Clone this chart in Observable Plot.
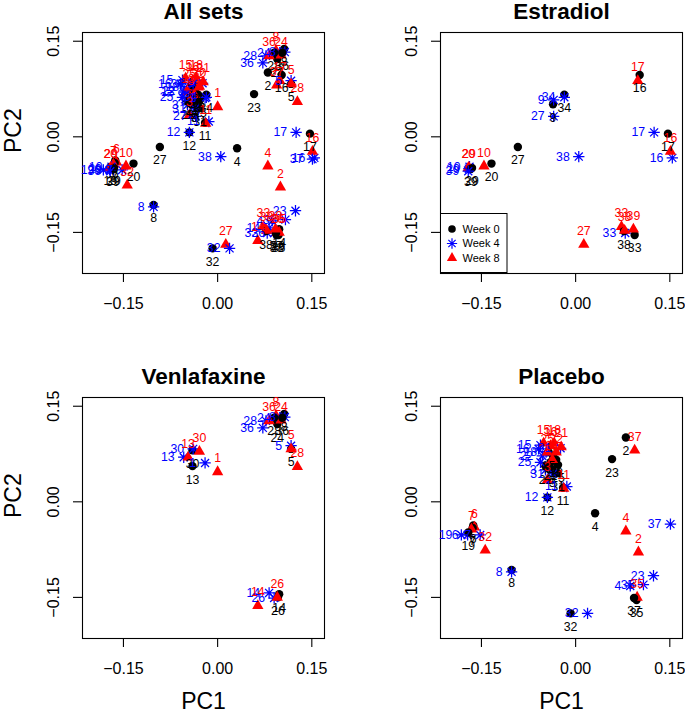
<!DOCTYPE html>
<html><head><meta charset="utf-8">
<script src="https://cdn.jsdelivr.net/npm/d3@7"></script>
<script src="https://cdn.jsdelivr.net/npm/@observablehq/plot@0.6"></script>
<style>
body{margin:0;background:#fff;}
#wrap{position:relative;width:685px;height:714px;overflow:hidden;font-family:"Liberation Sans",Arial,Helvetica,sans-serif;background:#fff;}
.panel{position:absolute;}
</style></head><body><div id="wrap"></div>
<script>
// ---- data: [subject, PC1, PC2] ----
const weeks = ["Week 0", "Week 4", "Week 8"];
const xTicks = [-0.15, 0, 0.15];
const yTicks = [-0.15, 0, 0.15];
const titles = ["All sets", "Estradiol", "Venlafaxine", "Placebo"];

const estradiolWeek0 = [[16,0.102,0.097],[17,0.147,0.005],[34,-0.018,0.066],[9,-0.036,0.051],[27,-0.092,-0.016],[20,-0.134,-0.042],[29,-0.165,-0.049],[39,-0.167,-0.050],[33,0.094,-0.154],[38,0.077,-0.148]];
const estradiolWeek4 = [[17,0.125,0.007],[16,0.154,-0.033],[9,-0.035,0.058],[34,-0.018,0.062],[27,-0.035,0.032],[38,0.005,-0.031],[29,-0.170,-0.050],[39,-0.171,-0.054],[10,-0.169,-0.047],[33,0.079,-0.151]];
const estradiolWeek8 = [[17,0.099,0.088],[16,0.151,-0.023],[10,-0.146,-0.046],[29,-0.170,-0.048],[20,-0.171,-0.049],[27,0.013,-0.169],[33,0.073,-0.141],[38,0.078,-0.147],[39,0.092,-0.145]];

const venlafaxineWeek0 = [[28,0.090,0.132],[36,0.103,0.132],[24,0.095,0.122],[8,0.106,0.138],[5,0.117,0.083],[14,0.098,-0.145],[26,0.096,-0.150],[30,-0.040,0.081],[13,-0.040,0.056]];
const venlafaxineWeek4 = [[36,0.072,0.116],[28,0.077,0.127],[24,0.099,0.132],[8,0.107,0.133],[5,0.117,0.088],[14,0.082,-0.143],[26,0.090,-0.151],[30,-0.039,0.083],[13,-0.054,0.070],[1,-0.020,0.061]];
const venlafaxineWeek8 = [[36,0.082,0.127],[8,0.093,0.135],[24,0.101,0.128],[28,0.127,0.055],[5,0.117,0.083],[14,0.064,-0.163],[26,0.095,-0.150],[30,-0.029,0.079],[13,-0.047,0.070],[1,0.000,0.047]];

const placeboWeek0 = [[2,0.080,0.101],[23,0.058,0.067],[4,0.031,-0.018],[37,0.093,-0.151],[35,0.097,-0.154],[32,-0.008,-0.175],[8,-0.102,-0.107],[12,-0.045,0.007],[11,-0.020,0.022],[15,-0.043,0.078],[16,-0.036,0.072],[18,-0.031,0.066],[21,-0.040,0.062],[22,-0.048,0.056],[25,-0.028,0.058],[3,-0.037,0.050],[31,-0.028,0.045],[19,-0.171,-0.048],[6,-0.163,-0.037],[7,-0.164,-0.041]];
const placeboWeek4 = [[37,0.151,-0.035],[23,0.124,-0.116],[4,0.087,-0.132],[35,0.108,-0.130],[32,0.019,-0.175],[8,-0.102,-0.110],[12,-0.045,0.007],[11,-0.014,0.024],[15,-0.056,0.089],[16,-0.059,0.083],[18,-0.047,0.078],[21,-0.024,0.084],[22,-0.053,0.072],[25,-0.056,0.062],[3,-0.048,0.050],[31,-0.036,0.044],[19,-0.182,-0.052],[6,-0.172,-0.052],[7,-0.152,-0.052]];
const placeboWeek8 = [[37,0.094,0.081],[4,0.080,-0.046],[2,0.100,-0.079],[35,0.098,-0.150],[11,-0.019,0.021],[15,-0.051,0.092],[16,-0.040,0.088],[18,-0.034,0.092],[21,-0.023,0.086],[22,-0.031,0.078],[25,-0.045,0.078],[3,-0.045,0.034],[31,-0.037,0.066],[7,-0.166,-0.043],[6,-0.161,-0.040],[32,-0.144,-0.076]];

// ---- build tables ----
const colors = {"Week 0": "#000000", "Week 4": "#0000FF", "Week 8": "#FF0000"};
function rows(arr, week) { return arr.map(([subject, pc1, pc2]) => ({subject, week, pc1, pc2})); }
function group(w0, w4, w8) {
  return [...rows(w0, weeks[0]), ...rows(w4, weeks[1]), ...rows(w8, weeks[2])]
    .sort((a, b) => a.subject - b.subject || weeks.indexOf(a.week) - weeks.indexOf(b.week));
}
const estradiol = group(estradiolWeek0, estradiolWeek4, estradiolWeek8);
const venlafaxine = group(venlafaxineWeek0, venlafaxineWeek4, venlafaxineWeek8);
const placebo = group(placeboWeek0, placeboWeek4, placeboWeek8);
const allSets = [...estradiol, ...venlafaxine, ...placebo]
  .sort((a, b) => a.subject - b.subject || weeks.indexOf(a.week) - weeks.indexOf(b.week));

// ---- R-like symbols ----
const symCircle = {draw(ctx, size) { const r = Math.sqrt(size / Math.PI); ctx.moveTo(r, 0); ctx.arc(0, 0, r, 0, 2 * Math.PI); ctx.closePath(); }};
const symTriangle = {draw(ctx, size) { const r = Math.sqrt(size / Math.PI); ctx.moveTo(0, -1.555 * r); ctx.lineTo(1.347 * r, 0.778 * r); ctx.lineTo(-1.347 * r, 0.778 * r); ctx.closePath(); }};
const symStar = {draw(ctx, size) { const r = Math.sqrt(size / Math.PI) * 1.35; const d = r * Math.SQRT1_2;
  ctx.moveTo(-r, 0); ctx.lineTo(r, 0); ctx.moveTo(0, -r); ctx.lineTo(0, r);
  ctx.moveTo(-d, -d); ctx.lineTo(d, d); ctx.moveTo(-d, d); ctx.lineTo(d, -d); }};
const symbols = [symCircle, symStar, symTriangle];

const fmt = d3.format(".2f");
const FONT = '"Liberation Sans", Arial, Helvetica, sans-serif';
const R = 4.2;
const LABEL = 12.3;

function panel(p) {
  const marks = [
    Plot.frame({stroke: "black", strokeWidth: 1.1}),
    Plot.axisX({ticks: xTicks, tickSize: 9, tickPadding: 15, tickFormat: fmt, fontSize: 16, label: null, strokeWidth: 1.1}),
    Plot.axisY({ticks: yTicks, tickSize: 9, tickPadding: 15, tickFormat: fmt, fontSize: 16, label: null,
      tickRotate: -90, textAnchor: "middle", lineAnchor: "bottom", strokeWidth: 1.1}),
    Plot.dot(p.rows, {x: "pc1", y: "pc2", symbol: "week", r: R,
      fill: d => d.week === "Week 4" ? "none" : colors[d.week],
      stroke: d => d.week === "Week 4" ? colors[d.week] : "none",
      strokeWidth: 1.25}),
    Plot.text(p.rows.filter(d => d.week === "Week 0"), {x: "pc1", y: "pc2", text: d => String(d.subject), dy: 13.5, fill: colors["Week 0"], fontSize: LABEL}),
    Plot.text(p.rows.filter(d => d.week === "Week 4"), {x: "pc1", y: "pc2", text: d => String(d.subject), dx: -9, textAnchor: "end", fill: colors["Week 4"], fontSize: LABEL}),
    Plot.text(p.rows.filter(d => d.week === "Week 8"), {x: "pc1", y: "pc2", text: d => String(d.subject), dy: -13.5, fill: colors["Week 8"], fontSize: LABEL}),
    Plot.text([p.title], {text: d => d, frameAnchor: "top", dy: -13.5, lineAnchor: "bottom", fontSize: 22.5, fontWeight: "bold"})
  ];
  if (p.pc1) marks.push(Plot.text(["PC1"], {text: d => d, frameAnchor: "bottom", dy: 70, lineAnchor: "bottom", fontSize: 23}));
  if (p.pc2) marks.push(Plot.text(["PC2"], {text: d => d, frameAnchor: "left", dx: -62, rotate: -90, lineAnchor: "bottom", fontSize: 23}));
  return Plot.plot({
    width: p.width, height: p.height,
    marginLeft: p.mL, marginRight: p.mR, marginTop: p.mT, marginBottom: p.mB,
    x: {domain: [-0.2152, 0.1702]},
    y: {domain: [-0.2145, 0.1637]},
    symbol: {domain: weeks, range: symbols},
    color: {type: "identity"},
    style: {fontFamily: FONT, background: "white", color: "black", overflow: "visible"},
    marks
  });
}

const specs = [
  {title: titles[0], rows: allSets, left: 0, top: 0, width: 342, height: 340, mL: 82, mR: 18, mT: 32, mB: 67, pc1: false, pc2: true},
  {title: titles[1], rows: estradiol, left: 342, top: 0, width: 343, height: 340, mL: 98, mR: 3, mT: 32, mB: 67, pc1: false, pc2: false, legend: true},
  {title: titles[2], rows: venlafaxine, left: 0, top: 340, width: 342, height: 374, mL: 82, mR: 18, mT: 57, mB: 76, pc1: true, pc2: true},
  {title: titles[3], rows: placebo, left: 342, top: 340, width: 343, height: 374, mL: 98, mR: 3, mT: 57, mB: 76, pc1: true, pc2: false}
];

const wrap = document.getElementById("wrap");
for (const s of specs) {
  const div = document.createElement("div");
  div.className = "panel";
  div.style.left = s.left + "px";
  div.style.top = s.top + "px";
  div.appendChild(panel(s));
  wrap.appendChild(div);
  if (s.legend) {
    const lw = 67.5, lh = 60;
    const svg = d3.select(div).append("svg")
      .attr("width", lw).attr("height", lh)
      .style("position", "absolute").style("left", s.mL + "px").style("top", (s.mT + 241 - lh) + "px");
    svg.append("rect").attr("x", 0.5).attr("y", 0.5).attr("width", lw - 1).attr("height", lh - 1)
      .attr("fill", "white").attr("stroke", "black").attr("stroke-width", 1);
    weeks.forEach((w, i) => {
      const y = 16 + i * 14.5;
      const g = svg.append("g").attr("transform", `translate(12,${y})`);
      g.append("path").attr("d", d3.symbol(symbols[i], Math.PI * 3.8 * 3.8)())
        .attr("fill", w === "Week 4" ? "none" : colors[w])
        .attr("stroke", w === "Week 4" ? colors[w] : "none").attr("stroke-width", 1.2);
      svg.append("text").attr("x", 22.5).attr("y", y).attr("dy", "0.35em")
        .attr("font-family", FONT).attr("font-size", 11).attr("fill", "black").text(w);
    });
  }
}
</script></body></html>
